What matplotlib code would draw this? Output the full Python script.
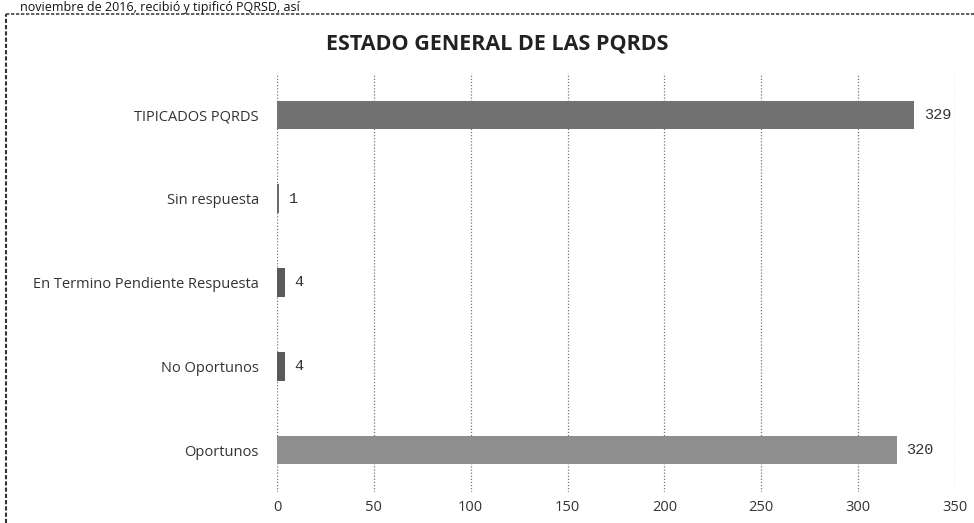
import matplotlib.pyplot as plt
from matplotlib.lines import Line2D

plt.rcParams['font.family'] = ['Open Sans', 'DejaVu Sans']

categories = ['Oportunos', 'No Oportunos', 'En Termino Pendiente Respuesta', 'Sin respuesta', 'TIPICADOS PQRDS']
values = [320, 4, 4, 1, 329]
bar_colors = ['#8e8e8e', '#5a5a5a', '#5a5a5a', '#6a6a6a', '#727272']
xticks = [0, 50, 100, 150, 200, 250, 300, 350]

W, H = 974, 523
fig = plt.figure(figsize=(W / 100, H / 100), dpi=100)

# sentence from the scanned page above the chart
fig.text(20 / W, 1 - 1 / H, 'noviembre de 2016, recibió y tipificó PQRSD, así',
         fontsize=9, va='top', ha='left', color='#111111')

# chart frame (left and top edges visible)
fig.add_artist(Line2D([6 / W, 6 / W], [0, 1 - 14 / H], transform=fig.transFigure,
                      color='#333333', lw=1.5, linestyle=(0, (2, 1))))
fig.add_artist(Line2D([6 / W, 1], [1 - 14 / H, 1 - 14 / H], transform=fig.transFigure,
                      color='#444444', lw=1.2, linestyle=(0, (2, 1))))

fig.text(497 / W, 1 - 44 / H, 'ESTADO GENERAL DE LAS PQRDS', fontsize=15.5,
         fontweight='bold', ha='center', va='center', color='#222222')

ax = fig.add_axes([277 / W, 1 - 492 / H, (955 - 277) / W, (492 - 73) / H])
ypos = range(len(categories))
ax.barh(ypos, values, height=0.34, color=bar_colors, zorder=2)
for y, v in zip(ypos, values):
    ax.text(v + 5, y, str(v), va='center', ha='left', fontsize=11,
            family=['Liberation Mono', 'DejaVu Sans Mono'], color='#333333')

ax.set_xlim(0, 350)
ax.set_ylim(-0.5, 4.5)
ax.set_xticks(xticks)
ax.set_xticklabels([str(t) for t in xticks], fontsize=10.5, color='#333333')
ax.set_yticks(list(ypos))
ax.set_yticklabels(categories, fontsize=10.5, color='#333333')
ax.tick_params(axis='both', length=0)
ax.tick_params(axis='y', pad=13)
ax.tick_params(axis='x', pad=6)
ax.grid(axis='x', color='#777777', linestyle=(0, (1, 1.5)), lw=0.9, zorder=0)
ax.set_axisbelow(True)
for s in ax.spines.values():
    s.set_visible(False)

fig.savefig('out.png', dpi=100)
